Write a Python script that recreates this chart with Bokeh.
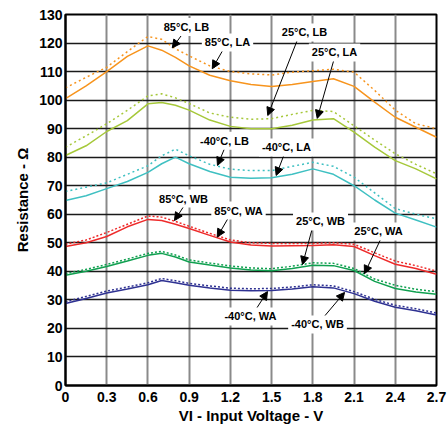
from bokeh.plotting import figure
from bokeh.models import Range1d, FixedTicker, Label, Arrow, NormalHead
from bokeh.embed import file_html
from bokeh.resources import INLINE

# ---- data ----
voltage = [0, 0.15, 0.3, 0.45, 0.6, 0.7, 0.8, 0.9, 1.05, 1.2, 1.35, 1.5, 1.65, 1.8, 1.95, 2.1, 2.25, 2.4, 2.55, 2.7]

r85_la = [100.5, 105, 110, 115.3, 119, 117.5, 115, 112, 108.7, 106.8, 105.5, 104.8, 105.5, 106.5, 107.5, 104.8, 99.3, 94, 90.5, 87]
r85_lb = [104.3, 108, 111.5, 117, 122.3, 121.3, 118, 115.5, 112, 110, 109.2, 108.8, 109.8, 110.3, 110.8, 109.8, 103.4, 96.5, 91.7, 90]
r25_la = [80.6, 84, 89, 92.8, 98.7, 99.2, 98.2, 96.5, 93, 90.8, 90, 90, 91.2, 93, 93.5, 88.8, 83.5, 78.8, 75.9, 72.4]
r25_lb = [83.5, 87.5, 91.7, 96.4, 101.5, 102.2, 100.8, 98.8, 95.5, 94, 93.3, 93.5, 95, 96.4, 96, 91, 86, 81.2, 77.5, 74.2]
rm40_la = [64.8, 66.5, 69, 71.5, 74.7, 77.7, 80, 77.7, 75, 73, 72.6, 72.8, 74, 75.9, 74, 70, 65, 60.4, 58, 55.5]
rm40_lb = [68, 69.5, 71, 74, 77, 80.5, 82.8, 80.5, 77.5, 75.8, 75.3, 75.3, 76.8, 78.2, 76.8, 73, 67.5, 62, 60, 58.4]
r85_wa = [48.7, 50, 52.2, 55.6, 58.2, 57.8, 56.5, 55, 52.6, 50.3, 49.2, 48.9, 49, 49.1, 49.3, 48.7, 45.5, 42.5, 41, 39]
r85_wb = [49.5, 51, 53.6, 56.5, 59.4, 59, 57.5, 55.8, 53.3, 51, 50, 49.8, 49.8, 49.8, 50, 49.5, 46.5, 43.6, 42, 40.1]
r25_wa = [38.6, 40, 41.7, 43.6, 45.6, 46.3, 45, 43.3, 42.2, 41.2, 40.5, 40.2, 41, 42.1, 42, 40.3, 36.5, 34, 32.8, 32]
r25_wb = [39.2, 40.7, 42.4, 44.3, 46.3, 47, 45.7, 44, 42.9, 41.9, 41.2, 40.9, 41.8, 43, 42.8, 41, 37.3, 35.1, 33.7, 32.9]
rm40_wa = [28.7, 30.5, 32.4, 33.8, 35.3, 36.8, 36, 35.1, 34.2, 33.4, 33.2, 33.3, 33.8, 34.6, 34.2, 32.2, 29.5, 27.4, 26.2, 24.7]
rm40_wb = [29.3, 31.2, 33.1, 34.5, 36, 37.5, 36.7, 35.8, 34.9, 34.1, 33.9, 34, 34.5, 35.3, 34.9, 32.9, 30.2, 28.1, 26.9, 25.4]

x_ticks = [0, 0.3, 0.6, 0.9, 1.2, 1.5, 1.8, 2.1, 2.4, 2.7]
x_tick_labels = ["0", "0.3", "0.6", "0.9", "1.2", "1.5", "1.8", "2.1", "2.4", "2.7"]
y_ticks = [0, 10, 20, 30, 40, 50, 60, 70, 80, 90, 100, 110, 120, 130]

x_title = "VI - Input Voltage - V"
y_title = "Resistance - Ω"
callout_texts = ["85°C, LB", "85°C, LA", "25°C, LB", "25°C, LA", "-40°C, LB", "-40°C, LA",
                 "85°C, WB", "85°C, WA", "25°C, WB", "25°C, WA", "-40°C, WA", "-40°C, WB"]

FONT = "Liberation Sans"
ORANGE = "#F7941D"
LIME = "#A6C83A"
CYAN = "#3FC0C2"
RED = "#EE2B2B"
GREEN = "#10A050"
BLUE = "#2E3192"

p = figure(width=448, height=428, output_backend="svg", toolbar_location=None,
           x_range=Range1d(0, 2.7), y_range=Range1d(0, 130),
           min_border_left=65, min_border_right=12, min_border_top=14, min_border_bottom=43)

p.outline_line_color = "black"
p.outline_line_width = 2
p.background_fill_color = "white"
p.border_fill_color = "white"

p.xaxis.ticker = FixedTicker(ticks=x_ticks)
p.xaxis.major_label_overrides = {t: l for t, l in zip(x_ticks, x_tick_labels)}
p.yaxis.ticker = FixedTicker(ticks=y_ticks)

for ax in (p.xaxis[0], p.yaxis[0]):
    ax.major_tick_in = 0
    ax.major_tick_out = 0
    ax.minor_tick_in = 0
    ax.minor_tick_out = 0
    ax.axis_line_color = "black"
    ax.axis_line_width = 2
    ax.major_label_text_font = FONT
    ax.major_label_text_font_style = "bold"
    ax.major_label_text_font_size = "14px"
    ax.major_label_text_color = "black"
    ax.axis_label_text_font = FONT
    ax.axis_label_text_font_style = "bold"
    ax.axis_label_text_font_size = "15px"
    ax.axis_label_text_color = "black"

p.xaxis.major_label_standoff = 6
p.yaxis.major_label_standoff = 3
p.xaxis.axis_label = x_title
p.xaxis.axis_label_standoff = 2
p.yaxis.axis_label = y_title
p.yaxis.axis_label_standoff = 5

p.xgrid.grid_line_color = "#8a8a8a"
p.xgrid.grid_line_width = 2
p.ygrid.grid_line_color = "#1a1a1a"
p.ygrid.grid_line_width = 1.6

series = [
    (r85_la, ORANGE, "solid"), (r85_lb, ORANGE, "2 3"),
    (r25_la, LIME, "solid"), (r25_lb, LIME, "2 3"),
    (rm40_la, CYAN, "solid"), (rm40_lb, CYAN, "2 3"),
    (r85_wa, RED, "solid"), (r85_wb, RED, "2 2"),
    (r25_wa, GREEN, "solid"), (r25_wb, GREEN, "2 2"),
    (rm40_wa, BLUE, "solid"), (rm40_wb, BLUE, "2 2"),
]
for ys, col, dash in series:
    p.line(voltage, ys, line_color=col, line_width=1.5, line_dash=dash)

# arrows (start -> tip), data units
arrow_pts = [
    (0.861, 123.8, 0.777, 118.3),
    (1.157, 118.5, 1.068, 111.0),
    (1.686, 120.9, 1.472, 94.6),
    (1.958, 114.9, 1.832, 93.6),
    (1.157, 83.0, 1.106, 77.1),
    (1.594, 81.3, 1.533, 73.6),
    (0.873, 63.7, 0.793, 57.8),
    (1.188, 59.0, 1.104, 52.0),
    (1.798, 55.4, 1.725, 42.4),
    (2.300, 51.9, 2.176, 39.2),
    (1.390, 27.0, 1.470, 32.9),
    (1.871, 23.5, 2.031, 32.6),
]
for xs, ys, xe, ye in arrow_pts:
    p.add_layout(Arrow(end=NormalHead(size=8, fill_color="black", line_color="black", line_width=1),
                       x_start=xs, y_start=ys, x_end=xe, y_end=ye,
                       line_color="black", line_width=1))

label_pos = [
    (0.88, 125.6), (1.179, 120.2), (1.739, 123.7), (1.958, 116.7), (1.157, 85.8), (1.608, 83.4),
    (0.859, 65.5), (1.259, 61.3), (1.856, 57.5), (2.278, 54.0), (1.346, 24.2), (1.834, 21.4),
]
for (lx, ly), txt in zip(label_pos, callout_texts):
    p.add_layout(Label(x=lx, y=ly, text=txt, text_align="center", text_baseline="middle",
                       text_font=FONT, text_font_style="bold", text_font_size="11px",
                       text_color="black", background_fill_color="white", padding=3))

open("out.html", "w").write(file_html(p, INLINE))
